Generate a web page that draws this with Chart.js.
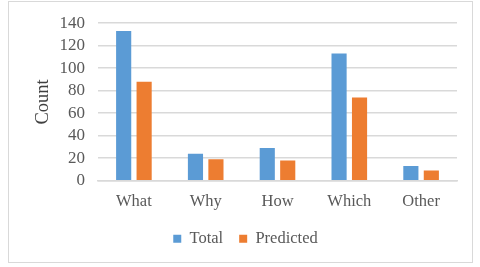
<!DOCTYPE html>
<html>
<head>
<meta charset="utf-8">
<script src="https://cdn.jsdelivr.net/npm/chart.js@4"></script>
<style>
    html, body { margin: 0; padding: 0; background: #fff; }
    #wrap { position: relative; width: 480px; height: 267px; }
    #frame { position: absolute; left: 8px; top: 1px; width: 463px; height: 260px; border: 1px solid #d9d9d9; }
    canvas { position: absolute; left: 0; top: 0; }
</style>
</head>
<body>
<div id="wrap">
    <div id="frame"></div>
    <canvas id="countChart" width="480" height="267"></canvas>
</div>
<script>
const categories = ['What', 'Why', 'How', 'Which', 'Other'];
const totalValues = [133, 24, 29, 113, 13];
const predictedValues = [88, 19, 18, 74, 9];
const yTicks = [0, 20, 40, 60, 80, 100, 120, 140];

const ctx = document.getElementById('countChart');

new Chart(ctx, {
    type: 'bar',
    data: {
        labels: categories,
        datasets: [
            {
                label: 'Total',
                data: totalValues,
                backgroundColor: '#5b9bd5',
                barPercentage: 0.74,
                categoryPercentage: 0.57,
            },
            {
                label: 'Predicted',
                data: predictedValues,
                backgroundColor: '#ed7d31',
                barPercentage: 0.74,
                categoryPercentage: 0.57,
            },
        ],
    },
    options: {
        responsive: false,
        animation: false,
        layout: {
            padding: { left: 34, right: 23, top: 16, bottom: 10 },
        },
        plugins: {
            legend: {
                position: 'bottom',
                labels: {
                    boxWidth: 8,
                    boxHeight: 8,
                    padding: 16,
                    color: '#595959',
                    font: { family: 'Liberation Serif', size: 16.5 },
                },
            },
            tooltip: { enabled: false },
        },
        scales: {
            x: {
                grid: { display: false },
                border: { color: '#d9d9d9', width: 1.5 },
                ticks: {
                    color: '#595959',
                    padding: 3,
                    font: { family: 'Liberation Serif', size: 16.5 },
                    minRotation: 0,
                    maxRotation: 0,
                },
            },
            y: {
                min: 0,
                max: 140,
                afterBuildTicks: function (axis) {
                    axis.ticks = yTicks.map(function (v) { return { value: v }; });
                },
                border: { display: false },
                grid: { color: '#d9d9d9', lineWidth: 1.5, drawTicks: false },
                ticks: {
                    autoSkip: false,
                    color: '#595959',
                    padding: 13,
                    font: { family: 'Liberation Serif', size: 17 },
                },
                title: {
                    display: true,
                    text: 'Count',
                    color: '#404040',
                    font: { family: 'Liberation Serif', size: 18.5, lineHeight: 1 },
                    padding: { top: 0, bottom: -6 },
                },
            },
        },
    },
});
</script>
</body>
</html>
